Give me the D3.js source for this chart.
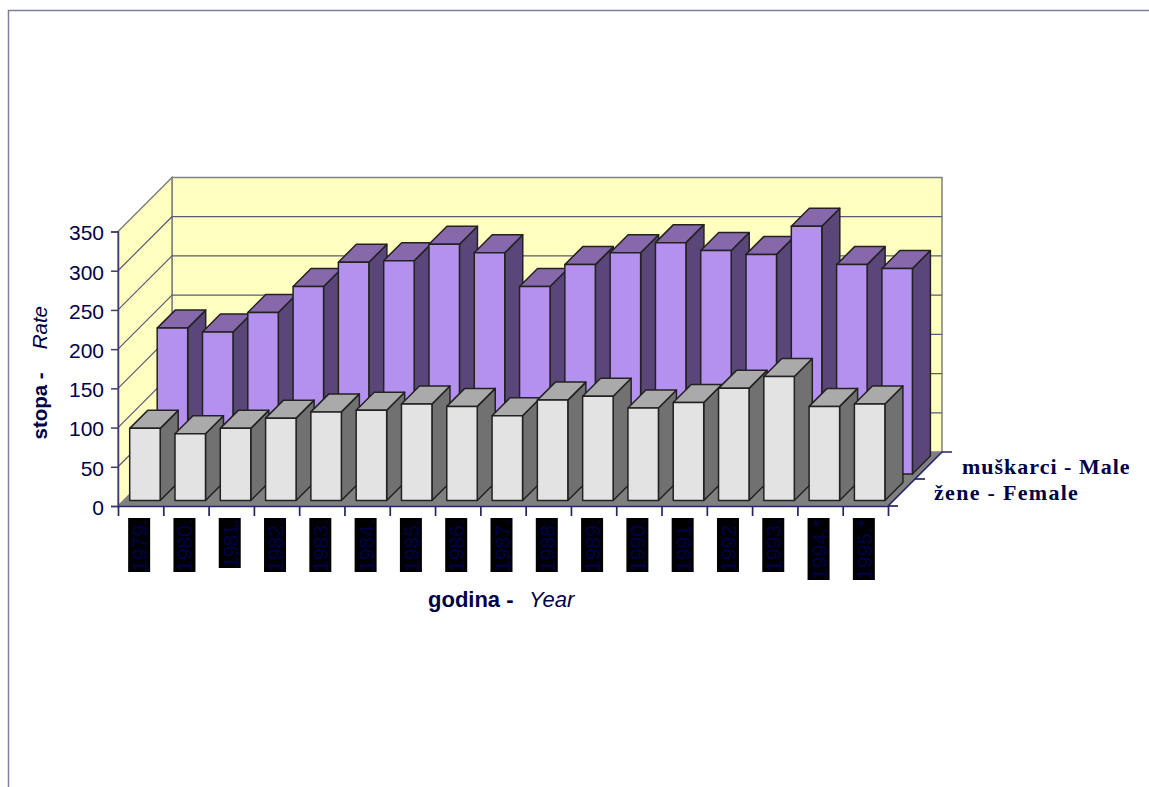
<!DOCTYPE html>
<html lang="en">
<head>
    <meta charset="UTF-8">
    <title>stopa - Rate</title>
    <script src="https://d3js.org/d3.v7.min.js"></script>
    <style>
        html, body { margin: 0; padding: 0; background: #fff; overflow: hidden; }
        text { font-family: "Liberation Sans", Arial, sans-serif; fill: #000047; }
        .legend text { font-family: "Liberation Serif", serif; font-weight: bold; font-size: 22px; }
    </style>
</head>
<body>
<script>
    const width = 1149;
    const height = 787;

    const years = ["1979.", "1980.", "1981.", "1982.", "1983.", "1984.", "1985.", "1986.", "1987.",
        "1988.", "1989.", "1990.", "1991.", "1992.", "1993.", "1994.*", "1995.*"];
    const male = [186, 181, 206, 239, 270, 272, 293, 282, 239, 267, 282, 295, 285, 280, 316, 267, 262];
    const female = [92, 85, 92, 105, 113, 115, 123, 120, 108, 128, 133, 118, 125, 143, 158, 120, 123];
    const yTicks = [0, 50, 100, 150, 200, 250, 300, 350];

    const y = d3.scaleLinear().domain([0, 350]).range([506, 231.5]);
    const x = d3.scaleBand().domain(years).range([118, 888]).paddingInner(0.34).paddingOuter(0.17);
    const xEdge = d3.scaleLinear().domain([0, years.length]).range([118, 888]);
    // depth goes up and to the right at 45 degrees
    const depth = 54;
    const barDepth = 18;
    const line = d3.line();

    const svg = d3.select("body").append("svg")
        .attr("width", width)
        .attr("height", height);

    // page frame
    svg.append("path")
        .attr("d", line([[8.5, height], [8.5, 10.5], [width, 10.5]]))
        .attr("fill", "none")
        .attr("stroke", "#7d7d9e")
        .attr("stroke-width", 1.5);

    const x0 = xEdge(0), x1 = xEdge(years.length), y0 = y(0), yTop = y(350);

    // walls and floor
    svg.append("path")
        .attr("d", line([[x0 + depth, yTop - depth], [x1 + depth, yTop - depth], [x1 + depth, y0 - depth], [x0 + depth, y0 - depth]]) + "Z")
        .attr("fill", "#ffffc0")
        .attr("stroke", "#808080")
        .attr("stroke-width", 1.5);
    svg.append("path")
        .attr("d", line([[x0, yTop], [x0 + depth, yTop - depth], [x0 + depth, y0 - depth], [x0, y0]]) + "Z")
        .attr("fill", "#ffffc0")
        .attr("stroke", "#808080")
        .attr("stroke-width", 1.5);
    svg.append("path")
        .attr("d", line([[x0, y0], [x0 + depth, y0 - depth], [x1 + depth, y0 - depth], [x1, y0]]) + "Z")
        .attr("fill", "#808080");

    // gridlines on side and back wall
    svg.selectAll(".grid")
        .data(yTicks.slice(1, -1))
        .enter().append("path")
        .attr("class", "grid")
        .attr("d", d => line([[x0, y(d)], [x0 + depth, y(d) - depth], [x1 + depth, y(d) - depth]]))
        .attr("fill", "none")
        .attr("stroke", "#5a5a78")
        .attr("stroke-width", 1.2);

    function drawBars(values, dx, dy, colors) {
        const g = svg.append("g");
        values.forEach((v, i) => {
            const l = x(years[i]) + dx;
            const r = l + x.bandwidth() + 0.6;
            const b = y(0) - dy;
            const t = y(v) - dy;
            const bar = g.append("g")
                .attr("stroke", "#222")
                .attr("stroke-width", 1.5)
                .attr("stroke-linejoin", "round");
            bar.append("path")
                .attr("d", line([[r, t], [r + barDepth, t - barDepth], [r + barDepth, b - barDepth], [r, b]]) + "Z")
                .attr("fill", colors.side);
            bar.append("path")
                .attr("d", line([[l, t], [l + barDepth, t - barDepth], [r + barDepth, t - barDepth], [r, t]]) + "Z")
                .attr("fill", colors.top);
            bar.append("rect")
                .attr("x", l)
                .attr("y", t)
                .attr("width", r - l)
                .attr("height", b - t)
                .attr("fill", colors.front);
        });
    }

    drawBars(male, 31.5, 32, {front: "#b491ee", top: "#8668ab", side: "#5a4678"});
    drawBars(female, 4, 5.5, {front: "#e3e3e3", top: "#aaaaaa", side: "#717171"});

    // y axis
    const yAxis = svg.append("g")
        .attr("transform", `translate(${x0},0)`)
        .call(d3.axisLeft(y).tickValues(yTicks).tickSize(7).tickPadding(7));
    yAxis.selectAll("path, line").attr("stroke", "#3c3c6a").attr("stroke-width", 1.5);
    yAxis.selectAll("text").attr("font-size", 21).attr("dy", "0.4em").attr("font-family", null);

    // x axis, ticks sit on the category edges
    const xAxis = svg.append("g")
        .attr("transform", `translate(0,${y0})`)
        .call(d3.axisBottom(xEdge).tickValues(d3.range(years.length + 1)).tickSize(10).tickSizeOuter(0).tickFormat(""));
    xAxis.selectAll("path, line").attr("stroke", "#24246a").attr("stroke-width", 1.7);
    svg.append("path")
        .attr("d", line([[x1, y0], [x1 + 10, y0]]))
        .attr("stroke", "#24246a")
        .attr("stroke-width", 1.7);

    // depth axis
    svg.append("path")
        .attr("d", line([[x1, y0], [x1 + depth, y0 - depth], [x1 + depth + 10, y0 - depth]]))
        .attr("fill", "none")
        .attr("stroke", "#24246a")
        .attr("stroke-width", 1.7);
    svg.append("path")
        .attr("d", line([[x1 + depth / 2, y0 - depth / 2], [x1 + depth / 2 + 10, y0 - depth / 2]]))
        .attr("stroke", "#24246a")
        .attr("stroke-width", 1.7);

    // year labels come out as black boxes in the original
    const boxLength = d => d === "1981." ? 50 : d.length > 5 ? 62 : 54;
    const labels = svg.selectAll(".year")
        .data(years)
        .enter().append("g")
        .attr("class", "year")
        .attr("transform", d => `translate(${x(d) + x.bandwidth() / 2 - 1.5},518)`);
    labels.append("rect")
        .attr("x", -11)
        .attr("y", 0)
        .attr("width", 22)
        .attr("height", boxLength)
        .attr("fill", "#000");
    labels.append("text")
        .attr("transform", d => `translate(8,${boxLength(d)}) rotate(-90)`)
        .attr("textLength", d => boxLength(d) - 1)
        .attr("font-size", 21)
        .style("fill", "#00004a")
        .text(d => d);

    // axis titles
    const yTitle = svg.append("text")
        .attr("transform", "translate(47,439.5) rotate(-90)")
        .attr("font-size", 20.5);
    yTitle.append("tspan").attr("font-weight", "bold").text("stopa -");
    yTitle.append("tspan").attr("font-style", "italic").attr("dx", 23).text("Rate");

    const xTitle = svg.append("text")
        .attr("x", 428)
        .attr("y", 607)
        .attr("font-size", 22);
    xTitle.append("tspan").attr("font-weight", "bold").text("godina -");
    xTitle.append("tspan").attr("font-style", "italic").attr("dx", 15.5).text("Year");

    // legend
    const legend = svg.append("g").attr("class", "legend");
    legend.append("text").attr("x", 962).attr("y", 474).attr("letter-spacing", 1).text("muškarci - Male");
    legend.append("text").attr("x", 934).attr("y", 500).attr("letter-spacing", 1.3).text("žene - Female");
</script>
</body>
</html>
